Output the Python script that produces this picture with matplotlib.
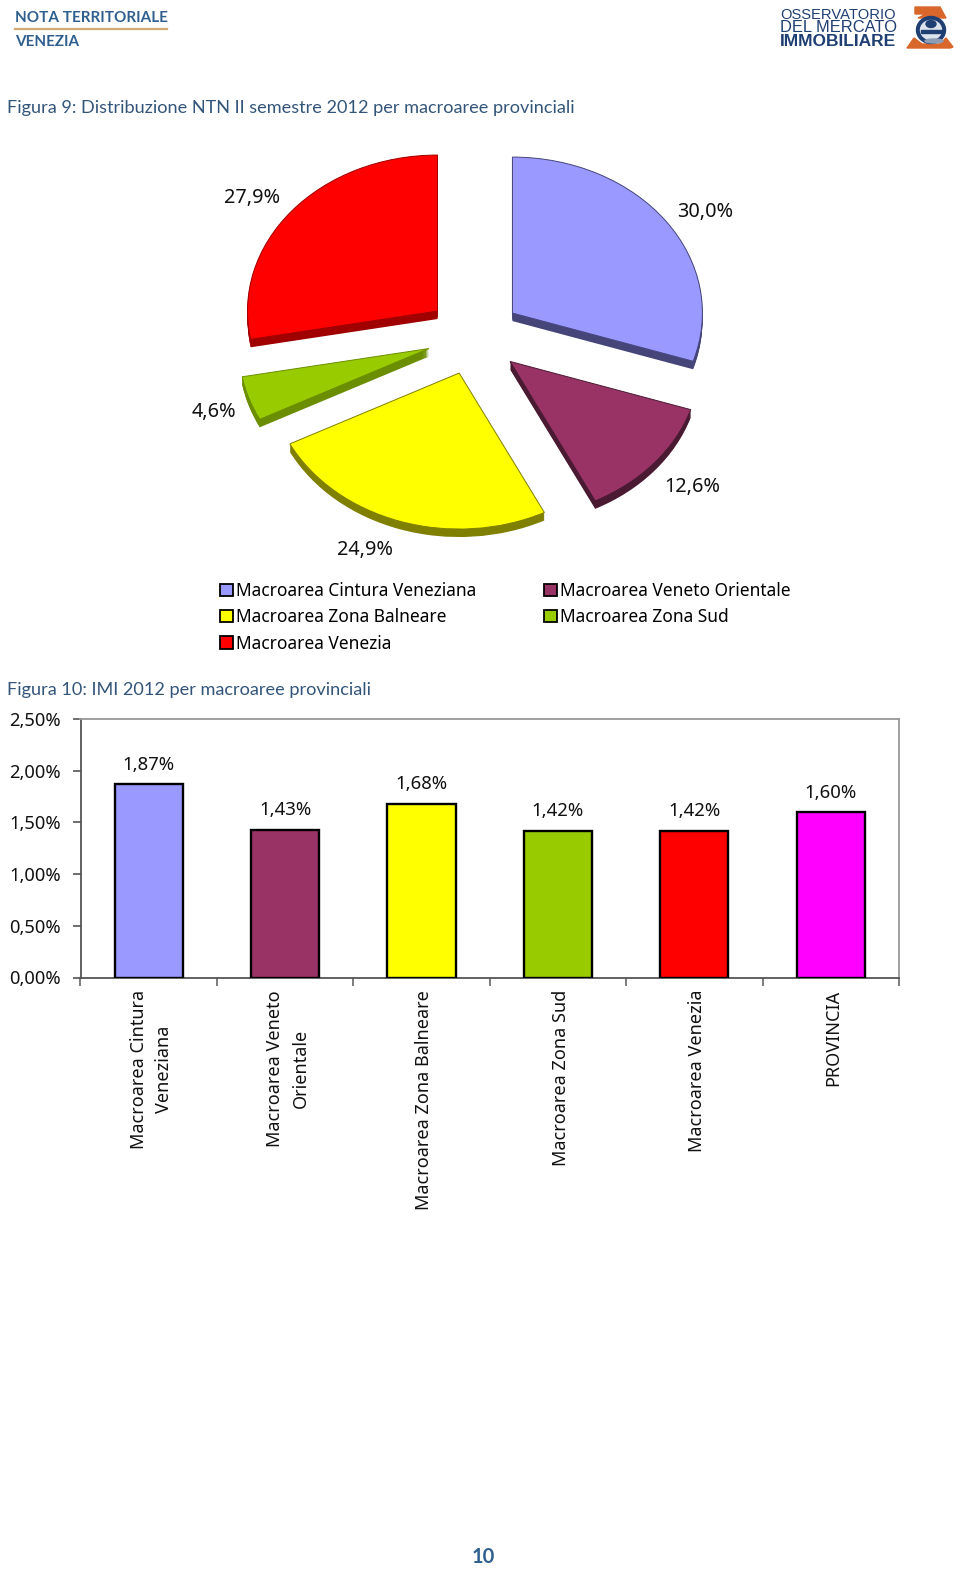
import matplotlib
matplotlib.use('Agg')
import matplotlib.pyplot as plt
from matplotlib.patches import Ellipse, Polygon, Rectangle

W, H = 960, 1569

# dati
pie_labels = ['Macroarea Cintura Veneziana', 'Macroarea Veneto Orientale', 'Macroarea Zona Balneare',
              'Macroarea Zona Sud', 'Macroarea Venezia']
pie_values = [30.0, 12.6, 24.9, 4.6, 27.9]
pie_text = ['30,0%', '12,6%', '24,9%', '4,6%', '27,9%']
pie_colors = ['#9999FF', '#993366', '#FFFF00', '#99CC00', '#FF0000']
pie_dark = ['#45457A', '#4A1A33', '#7F7F00', '#6B8E00', '#A00000']

bar_labels = ['Macroarea Cintura\nVeneziana', 'Macroarea Veneto\nOrientale', 'Macroarea Zona Balneare',
              'Macroarea Zona Sud', 'Macroarea Venezia', 'PROVINCIA']
bar_values = [1.87, 1.43, 1.68, 1.42, 1.42, 1.60]
bar_text = ['1,87%', '1,43%', '1,68%', '1,42%', '1,42%', '1,60%']
bar_colors = ['#9999FF', '#993366', '#FFFF00', '#99CC00', '#FF0000', '#FF00FF']
y_ticks = [0, 0.5, 1.0, 1.5, 2.0, 2.5]
y_ticklabels = ['0,00%', '0,50%', '1,00%', '1,50%', '2,00%', '2,50%']

TITLE = '#33557A'
CHART_FONT = 'Noto Sans'
DOC_FONT = 'Lato'

fig = plt.figure(figsize=(W / 100, H / 100), dpi=100, facecolor='white')


def axes_px(left, top, right, bottom):
    return fig.add_axes([left / W, 1 - bottom / H, (right - left) / W, (bottom - top) / H])


# livello in pixel per testi di pagina e logo
page = fig.add_axes([0, 0, 1, 1])
page.set_xlim(0, W)
page.set_ylim(H, 0)
page.axis('off')

page.text(15, 18.5, 'NOTA TERRITORIALE', family=DOC_FONT, weight='bold', fontsize=11, color='#2F5F8F', va='center')
page.plot([15, 167], [28.5, 28.5], color='#D2A873', lw=1.6)
page.text(15, 41.5, 'VENEZIA', family=DOC_FONT, weight='bold', fontsize=11, color='#2F5F8F', va='center')
page.text(7, 108, 'Figura 9: Distribuzione NTN II semestre 2012 per macroaree provinciali',
          family=DOC_FONT, fontsize=13.1, color=TITLE, va='center')
page.text(7, 690, 'Figura 10: IMI 2012 per macroaree provinciali',
          family=DOC_FONT, fontsize=13.1, color=TITLE, va='center')
page.text(483.5, 1557, '10', family=DOC_FONT, weight='bold', fontsize=14.5, color='#2F5F8F', ha='center', va='center')

# logo
logo_blue = '#1F3F73'
page.text(780, 15, 'OSSERVATORIO', family='Liberation Sans', fontsize=10.6, color=logo_blue, va='center')
page.text(780, 28, 'DEL MERCATO', family='Liberation Sans', fontsize=11.9, color=logo_blue, va='center')
page.text(780, 41.5, 'IMMOBILIARE', family='Liberation Sans', weight='bold', fontsize=12.5, color=logo_blue, va='center')
page.add_patch(Polygon([(915, 7), (940, 7), (946, 18), (918, 18), (926, 14), (915, 14)], color='#D9662A'))
page.add_patch(Polygon([(907, 48), (914, 38), (922, 44), (940, 44), (946, 38), (953, 47), (950, 48)], color='#D9662A'))
page.add_patch(Ellipse((931, 30), 29, 27, color=logo_blue))
page.add_patch(Ellipse((931, 30), 21, 19, color='#DDE3EC'))
page.add_patch(Ellipse((931, 24), 10, 7, color=logo_blue))
page.add_patch(Rectangle((921, 30), 21, 3, color=logo_blue))
page.add_patch(Ellipse((934, 41), 18, 4, color='#8D9DB5'))

# torta: raggio 1 = 190 px in orizzontale e 156 px in verticale
cx, cy = 474, 336
rx, ry = 190, 156
ax_pie = axes_px(cx - 1.5 * rx, cy - 1.5 * ry, cx + 1.5 * rx, cy + 1.5 * ry)
explode = [0.25] * len(pie_values)
depth_px = 8
for d in range(depth_px, 0, -1):
    ax_pie.pie(pie_values, colors=pie_dark, explode=explode, startangle=90, counterclock=False,
               center=(0, -d / ry), normalize=True, wedgeprops=dict(linewidth=0.6, edgecolor='none'))
wedges, _ = ax_pie.pie(pie_values, colors=pie_colors, explode=explode, startangle=90, counterclock=False,
                       normalize=True)
for w, dark in zip(wedges, pie_dark):
    w.set_edgecolor(dark)
    w.set_linewidth(0.7)
ax_pie.set_aspect('auto')
ax_pie.set_xlim(-1.5, 1.5)
ax_pie.set_ylim(-1.5, 1.5)
ax_pie.patch.set_alpha(0)

pie_label_pos = [(705, 212), (692, 487), (365, 550), (214, 412), (252, 198)]
for txt, (x, y) in zip(pie_text, pie_label_pos):
    page.text(x, y, txt, family=CHART_FONT, fontsize=14.3, color='#111111', ha='center', va='center')

# legenda, riempita per colonne
order = [0, 2, 4, 1, 3]
handles = [Rectangle((0, 0), 1, 1, facecolor=pie_colors[i], edgecolor='black', linewidth=1.3) for i in order]
fig.legend(handles, [pie_labels[i] for i in order], ncols=2, frameon=False,
           loc='upper left', bbox_to_anchor=(215 / W, 1 - 577 / H),
           prop=dict(family=CHART_FONT, size=12.5), handlelength=0.72, handleheight=0.72,
           handletextpad=0.2, columnspacing=3.9, labelspacing=0.47, borderpad=0.3, borderaxespad=0)

# barre
ax_bar = axes_px(80.5, 719, 899, 977.5)
ax_bar.patch.set_alpha(0)
positions = list(range(len(bar_values)))
bars = ax_bar.bar(positions, bar_values, width=0.5, color=bar_colors, edgecolor='black', linewidth=1.7, zorder=3)
ax_bar.set_xlim(-0.5, len(bar_values) - 0.5)
ax_bar.set_ylim(0, 2.5)
ax_bar.set_yticks(y_ticks, y_ticklabels, family=CHART_FONT, fontsize=13.2, color='#111111')
ax_bar.tick_params(axis='y', length=6, width=1.2, color='#555555', pad=8)
ax_bar.set_xticks([p - 0.5 for p in positions] + [len(bar_values) - 0.5], [''] * (len(bar_values) + 1))
ax_bar.tick_params(axis='x', length=5.5, width=1.2, color='#666666')
for p, label in zip(positions, bar_labels):
    ax_bar.annotate(label, (p, 0), xytext=(2, -9), textcoords='offset points', rotation=90, ha='center',
                    va='top', multialignment='center', family=CHART_FONT, fontsize=13, color='#111111',
                    linespacing=1.5, annotation_clip=False)
for b, txt in zip(bars, bar_text):
    ax_bar.annotate(txt, (b.get_x() + b.get_width() / 2, b.get_height()), xytext=(0, 7.5),
                    textcoords='offset points', ha='center', va='bottom', family=CHART_FONT, fontsize=13.4,
                    color='#111111')
for name in ['left', 'bottom']:
    ax_bar.spines[name].set_color('#555555')
    ax_bar.spines[name].set_linewidth(1.3)
for name in ['top', 'right']:
    ax_bar.spines[name].set_color('#999999')
    ax_bar.spines[name].set_linewidth(1.3)

fig.savefig('out.png', dpi=100)
